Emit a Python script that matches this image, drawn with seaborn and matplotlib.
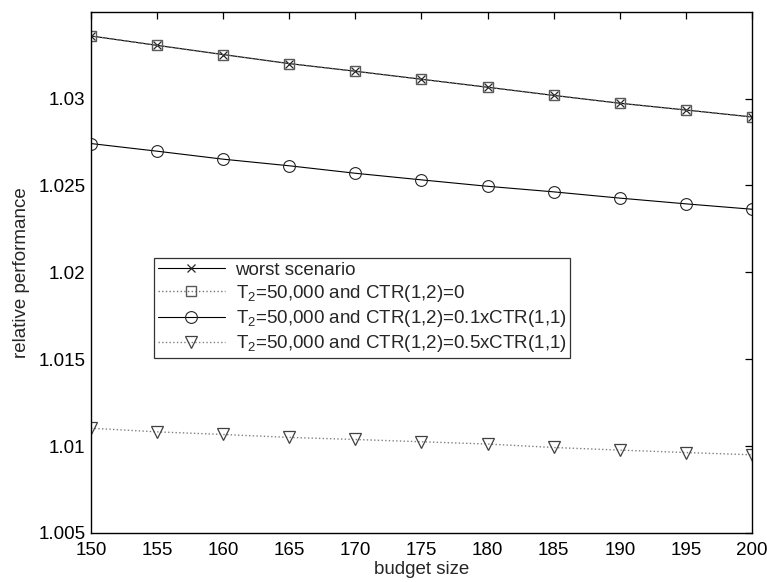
import matplotlib
matplotlib.use("Agg")
import matplotlib.pyplot as plt
import seaborn as sns
import pandas as pd
import numpy as np

budget = [150, 155, 160, 165, 170, 175, 180, 185, 190, 195, 200]
worst = [1.03360, 1.03306, 1.03253, 1.03201, 1.03157, 1.03111, 1.03065, 1.03018, 1.02973, 1.02934, 1.02894]
ctr_zero = [1.03360, 1.03306, 1.03253, 1.03201, 1.03157, 1.03111, 1.03065, 1.03018, 1.02973, 1.02934, 1.02894]
ctr_01 = [1.02741, 1.02697, 1.02651, 1.02613, 1.02570, 1.02532, 1.02495, 1.02463, 1.02427, 1.02394, 1.02363]
ctr_05 = [1.01103, 1.01082, 1.01067, 1.01050, 1.01038, 1.01025, 1.01012, 1.00992, 1.00977, 1.00963, 1.00950]

labels = ["worst scenario",
          "T$_2$=50,000 and CTR(1,2)=0",
          "T$_2$=50,000 and CTR(1,2)=0.1xCTR(1,1)",
          "T$_2$=50,000 and CTR(1,2)=0.5xCTR(1,1)"]
yticks = [1.005, 1.01, 1.015, 1.02, 1.025, 1.03]
ytick_labels = ["1.005", "1.01", "1.015", "1.02", "1.025", "1.03"]
xticks = [150, 155, 160, 165, 170, 175, 180, 185, 190, 195, 200]

sns.set_style("white")
plt.rcParams['font.family'] = ['Liberation Sans', 'DejaVu Sans']
plt.rcParams['mathtext.fontset'] = 'custom'
plt.rcParams['mathtext.rm'] = 'Liberation Sans'
plt.rcParams['mathtext.it'] = 'Liberation Sans'

FS = 13.5

fig = plt.figure(figsize=(7.67, 5.82), dpi=100)
ax = fig.add_axes([0.1186, 0.0842, 0.8618, 0.8958])

styles = [
    dict(color="black", linestyle="-", marker="x", markersize=6, markeredgewidth=0.9,
         markeredgecolor="0.15", markerfacecolor="none", linewidth=0.8),
    dict(color="0.45", linestyle=":", marker="s", markersize=7, markeredgewidth=1.0,
         markeredgecolor="0.35", markerfacecolor="none", linewidth=1.0),
    dict(color="black", linestyle="-", marker="o", markersize=8.5, markeredgewidth=0.8,
         markeredgecolor="0.15", markerfacecolor="none", linewidth=0.8),
    dict(color="0.5", linestyle=":", marker="v", markersize=9, markeredgewidth=0.9,
         markeredgecolor="0.25", markerfacecolor="none", linewidth=1.0),
]
series = [worst, ctr_zero, ctr_01, ctr_05]
for vals, lab, st in zip(series, labels, styles):
    df = pd.DataFrame({"budget": budget, "perf": vals})
    sns.lineplot(data=df, x="budget", y="perf", ax=ax, label=lab, **st)

ax.set_xlim(150, 200)
ax.set_ylim(1.005, 1.035)
ax.set_xticks(xticks)
ax.set_xticklabels([str(v) for v in xticks])
ax.set_yticks(yticks)
ax.set_yticklabels(ytick_labels)
ax.tick_params(direction="in", length=5, width=0.9, labelsize=FS, top=True, right=True,
               colors="black")
ax.tick_params(axis="x", pad=6.5)
ax.tick_params(axis="y", pad=4)
for s in ax.spines.values():
    s.set_visible(True)
    s.set_color("black")
    s.set_linewidth(1.0)
ax.set_xlabel("budget size", fontsize=FS, labelpad=1.5)
ax.set_ylabel("relative performance", fontsize=FS, labelpad=6)

leg = ax.legend(loc="upper left", bbox_to_anchor=(0.0953, 0.5275), borderaxespad=0,
                fontsize=FS, frameon=True, fancybox=False, handlelength=3.6,
                handletextpad=0.55, labelspacing=0.22, borderpad=0.2, edgecolor="black")
leg.get_frame().set_linewidth(0.9)

fig.savefig("out.png", dpi=100)
